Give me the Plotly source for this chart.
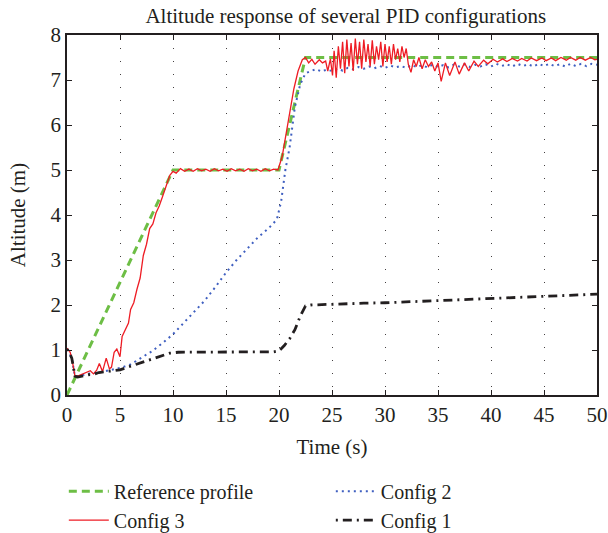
import plotly.graph_objects as go

# ---- data -------------------------------------------------------------
# Reference altitude profile (m) vs time (s)
ref_t = [0, 10, 20, 22.5, 50]
ref_v = [0, 5, 5, 7.5, 7.5]

# Config 1 response
c1_t = [0, 0.2, 0.45, 0.6, 0.75, 1.0, 1.5, 2.0, 2.5, 3.0, 4.0, 5.0, 6.0, 7.0,
        8.0, 9.0, 9.7, 10.5, 12, 14, 16, 18, 19.5, 20.0, 20.5, 21.0, 21.5,
        22.0, 22.5, 23.0, 25, 28, 30, 33, 36, 40, 43, 46, 48, 50]
c1_v = [1.02, 0.95, 0.82, 0.62, 0.42, 0.40, 0.43, 0.45, 0.46, 0.50, 0.53,
        0.56, 0.64, 0.72, 0.80, 0.87, 0.93, 0.95, 0.95, 0.96, 0.96, 0.96,
        0.96, 0.98, 1.10, 1.25, 1.45, 1.75, 1.98, 2.00, 2.02, 2.04, 2.05,
        2.08, 2.10, 2.15, 2.17, 2.20, 2.22, 2.24]

# Config 2 response
c2_t = [0, 0.2, 0.45, 0.6, 0.75, 1.0, 2, 3, 4, 5, 6, 7, 8, 9, 10, 11, 12, 13,
        14, 15, 16, 17, 18, 19, 19.8, 20.2, 20.6, 21.0, 21.5, 22.0, 22.5,
        23.0, 23.5, 24.0, 24.5, 25.0, 25.5, 26.0, 26.5, 27.0, 27.5, 28.0,
        28.5, 29.0, 29.5, 30.0, 30.5, 31.0, 31.5, 32.0, 32.5, 33.0, 33.5,
        34.0, 34.5, 35.0, 35.5, 36.0, 36.5, 37.0, 37.5, 38.0, 38.5, 39.0,
        39.5, 40.0, 40.5, 41.0, 41.5, 42.0, 42.5, 43.0, 43.5, 44.0, 44.5,
        45.0, 45.5, 46.0, 46.5, 47.0, 47.5, 48.0, 48.5, 49.0, 49.5, 50.0]
c2_v = [1.02, 0.95, 0.82, 0.62, 0.42, 0.42, 0.47, 0.50, 0.55, 0.60, 0.68,
        0.82, 0.97, 1.15, 1.35, 1.60, 1.85, 2.10, 2.40, 2.72, 3.00, 3.25,
        3.50, 3.70, 3.90, 4.30, 5.00, 5.50, 6.40, 6.90, 7.15, 7.20, 7.24,
        7.19, 7.23, 7.20, 7.25, 7.21, 7.27, 7.24, 7.29, 7.25, 7.30, 7.26,
        7.31, 7.27, 7.32, 7.28, 7.31, 7.27, 7.33, 7.29, 7.33, 7.28, 7.34,
        7.29, 7.33, 7.28, 7.34, 7.30, 7.35, 7.29, 7.34, 7.30, 7.35, 7.30,
        7.36, 7.31, 7.35, 7.30, 7.36, 7.31, 7.35, 7.30, 7.36, 7.31, 7.36,
        7.31, 7.35, 7.30, 7.36, 7.31, 7.36, 7.31, 7.36, 7.34]

# Config 3 response
c3_t = [0, 0.3, 0.5, 0.75, 1.0, 1.3, 1.7, 2.0, 2.2, 2.5, 2.8, 3.05, 3.35,
        3.7, 4.0, 4.2, 4.45, 4.7, 5.0, 5.2, 5.5, 5.8, 6.0, 6.3, 6.6, 6.9,
        7.2, 7.5, 7.8, 8.1, 8.4, 8.7, 9.0, 9.4, 9.7, 10.0,
        10.3, 10.7, 11.1, 11.5, 11.9, 12.3, 12.7, 13.1, 13.5, 13.9, 14.3,
        14.7, 15.1, 15.5, 15.9, 16.3, 16.7, 17.1, 17.5, 17.9, 18.3, 18.7,
        19.1, 19.5, 19.9,
        20.3, 20.7, 21.0, 21.4, 21.8, 22.2, 22.5,
        22.8, 23.1, 23.4, 23.8, 24.1, 24.4, 24.6, 24.85,
        25.05, 25.2, 25.4, 25.6, 25.8, 26.0, 26.2, 26.4, 26.6, 26.8, 27.0,
        27.2, 27.4, 27.6, 27.8, 28.0, 28.2, 28.4, 28.6, 28.8, 29.0, 29.2,
        29.4, 29.6, 29.8, 30.0, 30.2, 30.4, 30.6, 30.8, 31.0, 31.2, 31.4,
        31.6, 31.8, 32.0, 32.2, 32.45,
        32.7, 32.95, 33.2, 33.5, 33.8, 34.1, 34.4, 34.7, 35.0, 35.3, 35.7,
        36.1, 36.6, 37.0, 37.5, 37.9, 38.4, 38.8, 39.3, 39.7, 40.2, 40.6,
        41.1, 41.5, 42.0, 42.5, 42.9, 43.4, 43.8, 44.3, 44.8, 45.2, 45.7,
        46.1, 46.6, 47.1, 47.5, 48.0, 48.4, 48.9, 49.4, 49.8, 50.0]
c3_v = [1.04, 0.95, 0.75, 0.42, 0.42, 0.45, 0.48, 0.52, 0.54, 0.47, 0.55,
        0.70, 0.52, 0.82, 0.58, 0.62, 0.95, 1.02, 0.85, 1.30, 1.45, 1.60,
        1.90, 2.05, 2.35, 2.60, 3.10, 3.35, 3.70, 3.80, 4.05, 4.20, 4.40,
        4.70, 4.88, 4.97,
        4.93, 5.03, 4.97, 5.02, 4.97, 5.03, 4.98, 5.02, 4.97, 5.03, 4.98,
        5.02, 4.97, 5.03, 4.98, 5.02, 4.97, 5.03, 4.98, 5.02, 4.97, 5.03,
        4.98, 5.02, 5.00,
        5.30, 5.85, 6.25, 6.80, 7.20, 7.45, 7.50,
        7.38, 7.46, 7.35, 7.45, 7.38, 7.42, 7.20, 7.47,
        7.10, 7.65, 7.05, 7.75, 7.25, 7.85, 7.15, 7.90, 7.30, 7.82, 7.20,
        7.92, 7.35, 7.85, 7.25, 7.90, 7.40, 7.80, 7.30, 7.88, 7.35, 7.75,
        7.45, 7.85, 7.30, 7.80, 7.40, 7.75, 7.35, 7.80, 7.45, 7.70, 7.40,
        7.75, 7.50, 7.70, 7.35, 7.17,
        7.45, 7.30, 7.50, 7.25, 7.45, 7.30, 7.40, 7.20, 7.38, 6.97, 7.38,
        7.10, 7.40, 7.13, 7.38, 7.20, 7.42, 7.30, 7.44, 7.36, 7.46, 7.40,
        7.47, 7.41, 7.48, 7.42, 7.48, 7.42, 7.49, 7.43, 7.49, 7.43, 7.49,
        7.43, 7.50, 7.44, 7.50, 7.44, 7.50, 7.44, 7.50, 7.45, 7.46]

x_ticks = [0, 5, 10, 15, 20, 25, 30, 35, 40, 45, 50]
y_ticks = [0, 1, 2, 3, 4, 5, 6, 7, 8]

# ---- styling ----------------------------------------------------------
FONT = "Liberation Serif"
INK = "#231f20"
FS = 21

fig = go.Figure()

fig.add_trace(go.Scatter(
    x=ref_t, y=ref_v, mode="lines", name="Reference profile", legendrank=1,
    line=dict(color="#6dbe45", width=3, dash="8px,5px")))
fig.add_trace(go.Scatter(
    x=c2_t, y=c2_v, mode="lines", name="Config 2", legendrank=2,
    line=dict(color="#3f5fc0", width=2, dash="2px,4px")))
fig.add_trace(go.Scatter(
    x=c3_t, y=c3_v, mode="lines", name="Config 3", legendrank=3,
    line=dict(color="#ee1c24", width=1.3)))
fig.add_trace(go.Scatter(
    x=c1_t, y=c1_v, mode="lines", name="Config 1", legendrank=4,
    line=dict(color=INK, width=2.8, dash="2px,5px,9px,5px")))

axis_common = dict(
    showline=True, linecolor=INK, linewidth=1.5, mirror="ticks",
    ticks="inside", ticklen=5, tickcolor=INK, tickwidth=1.2,
    tickfont=dict(family=FONT, size=FS, color=INK),
    zeroline=False,
)

fig.update_xaxes(
    range=[0, 50], tickvals=x_ticks,
    showgrid=True, gridcolor="rgba(35,31,32,0.85)", gridwidth=1,
    griddash="1px,12px",
    title=dict(text="Time (s)", font=dict(family=FONT, size=FS, color=INK),
               standoff=13),
    **axis_common)
fig.update_yaxes(
    range=[0, 8], tickvals=y_ticks, showgrid=False,
    title=dict(text="Altitude (m)", font=dict(family=FONT, size=FS, color=INK),
               standoff=19),
    **axis_common)

fig.update_layout(
    width=608, height=533,
    margin=dict(l=67, r=11, t=35, b=138, autoexpand=False),
    paper_bgcolor="white", plot_bgcolor="white",
    title=dict(text="Altitude response of several PID configurations",
               font=dict(family=FONT, size=FS, color=INK),
               x=0.526, xref="paper", xanchor="center",
               y=1 - 16 / 533, yanchor="middle"),
    showlegend=True,
    legend=dict(orientation="h", x=-0.006, xanchor="left",
                y=-0.213, yanchor="top",
                font=dict(family=FONT, size=20, color=INK),
                entrywidth=212, itemwidth=40, traceorder="normal",
                bgcolor="rgba(0,0,0,0)"),
)

fig.write_html("out.html")
